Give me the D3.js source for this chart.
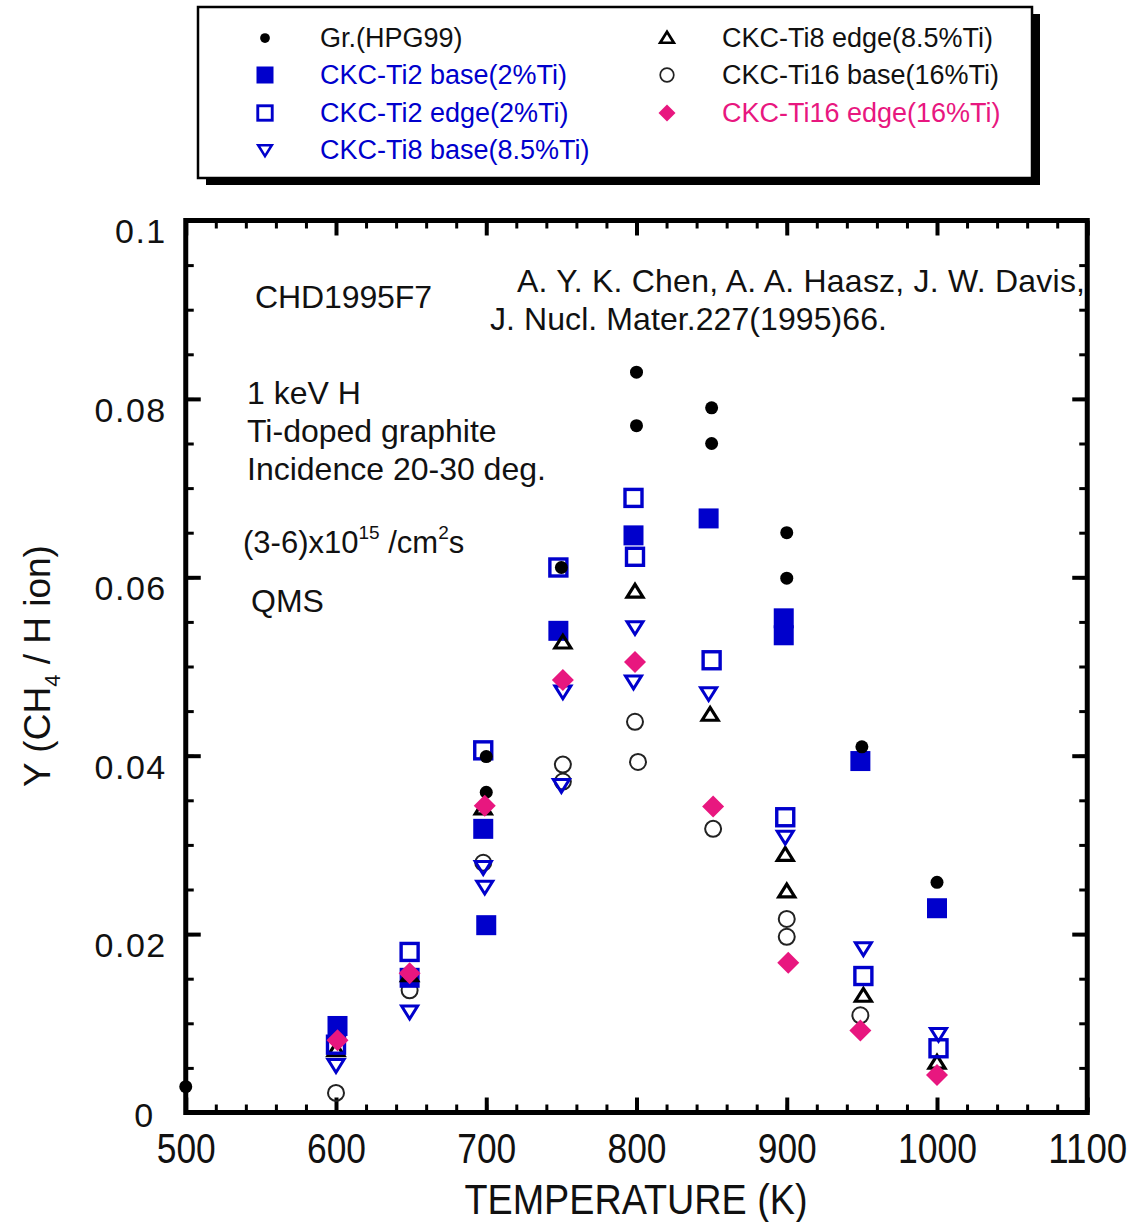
<!DOCTYPE html>
<html>
<head>
<meta charset="utf-8">
<script src="https://cdn.jsdelivr.net/npm/d3@7"></script>
<style>
  body { margin: 0; background: #fff; }
  svg { font-family: "Liberation Sans", Arial, sans-serif; }
</style>
</head>
<body>
<svg id="chart" width="1140" height="1222"></svg>
<script>
// data (temperature K, yield CH4/H)
var grT = [500, 700, 700, 750, 800, 800, 850, 850, 900, 900, 950, 1000];
var grY = [0.0029, 0.0399, 0.0359, 0.0611, 0.0830, 0.0770, 0.0790, 0.0750, 0.0650, 0.0599, 0.0410, 0.0258];

var ti2BaseT = [601, 649, 698, 700, 748, 798, 848, 898, 898, 949, 1000];
var ti2BaseY = [0.0097, 0.0151, 0.0318, 0.0210, 0.0540, 0.0647, 0.0666, 0.0554, 0.0535, 0.0394, 0.0229];

var ti2EdgeT = [600, 649, 698, 748, 798, 799, 850, 899, 951, 1001];
var ti2EdgeY = [0.0076, 0.0180, 0.0406, 0.0611, 0.0689, 0.0623, 0.0507, 0.0331, 0.0153, 0.0072];

var ti8BaseT = [600, 649, 698, 699, 751, 750, 799, 798, 848, 899, 951, 1001];
var ti8BaseY = [0.0053, 0.0113, 0.0275, 0.0253, 0.0472, 0.0367, 0.0544, 0.0483, 0.0470, 0.0309, 0.0184, 0.0088];

var ti8EdgeT = [600, 649, 698, 751, 799, 849, 899, 900, 951, 1000];
var ti8EdgeY = [0.0070, 0.0154, 0.0341, 0.0527, 0.0584, 0.0446, 0.0289, 0.0248, 0.0131, 0.0056];

var ti16BaseT = [600, 649, 698, 751, 751, 799, 801, 851, 900, 900, 949];
var ti16BaseY = [0.0022, 0.0137, 0.0280, 0.0390, 0.0371, 0.0438, 0.0393, 0.0318, 0.0217, 0.0197, 0.0109];

var ti16EdgeT = [601, 649, 699, 751, 799, 851, 901, 949, 1000];
var ti16EdgeY = [0.0081, 0.0156, 0.0344, 0.0485, 0.0505, 0.0343, 0.0168, 0.0092, 0.0042];

var xMajor = [500, 600, 700, 800, 900, 1000, 1100];
var xMinor = d3.range(520, 1100, 20);
var yMajor = [0, 0.02, 0.04, 0.06, 0.08, 0.1];
var yMinor = d3.range(0.005, 0.1, 0.005);
var yLabels = ["0", "0.02", "0.04", "0.06", "0.08", "0.1"];

var BLUE = "#0000cc", PINK = "#e8177f", INK = "#111";

var svg = d3.select("#chart");

var x = d3.scaleLinear().domain([500, 1100]).range([185.75, 1087.25]);
var y = d3.scaleLinear().domain([0, 0.1]).range([1112.5, 220.5]);

/* marker shapes, sized in px */
function marker(g, kind, cx, cy, s) {
  var h = s / 2;
  if (kind == "dot") {
    g.append("circle").attr("cx", cx).attr("cy", cy).attr("r", h * 0.65).attr("fill", "#000");
  } else if (kind == "fsq") {
    g.append("rect").attr("x", cx - h).attr("y", cy - h).attr("width", s).attr("height", s).attr("fill", BLUE);
  } else if (kind == "osq") {
    var k = h * 0.85;
    g.append("rect").attr("x", cx - k).attr("y", cy - k).attr("width", 2 * k).attr("height", 2 * k)
      .attr("fill", "none").attr("stroke", BLUE).attr("stroke-width", s * 0.17);
  } else if (kind == "dtri") {
    var w = h * 0.8;
    g.append("path").attr("d", "M" + (cx - w) + "," + (cy - w * 0.7) + "L" + (cx + w) + "," + (cy - w * 0.7) + "L" + cx + "," + (cy + w * 0.9) + "Z")
      .attr("fill", "none").attr("stroke", BLUE).attr("stroke-width", s * 0.15).attr("stroke-linejoin", "miter");
  } else if (kind == "utri") {
    var w2 = h * 0.8;
    g.append("path").attr("d", "M" + (cx - w2) + "," + (cy + w2 * 0.7) + "L" + (cx + w2) + "," + (cy + w2 * 0.7) + "L" + cx + "," + (cy - w2 * 0.9) + "Z")
      .attr("fill", "none").attr("stroke", "#000").attr("stroke-width", s * 0.16).attr("stroke-linejoin", "miter");
  } else if (kind == "ocirc") {
    g.append("circle").attr("cx", cx).attr("cy", cy).attr("r", h * 0.8)
      .attr("fill", "none").attr("stroke", "#222").attr("stroke-width", s * 0.1);
  } else if (kind == "diam") {
    g.append("path").attr("d", "M" + cx + "," + (cy - h) + "L" + (cx + h) + "," + cy + "L" + cx + "," + (cy + h) + "L" + (cx - h) + "," + cy + "Z")
      .attr("fill", PINK);
  }
}

var series = [
  { kind: "ocirc", t: ti16BaseT, v: ti16BaseY },
  { kind: "fsq",   t: ti2BaseT,  v: ti2BaseY },
  { kind: "utri",  t: ti8EdgeT,  v: ti8EdgeY },
  { kind: "osq",   t: ti2EdgeT,  v: ti2EdgeY },
  { kind: "dtri",  t: ti8BaseT,  v: ti8BaseY },
  { kind: "dot",   t: grT,       v: grY },
  { kind: "diam",  t: ti16EdgeT, v: ti16EdgeY }
];

/* legend */
var legend = svg.append("g").attr("id", "legend");
legend.append("rect").attr("x", 206).attr("y", 14).attr("width", 834).attr("height", 171).attr("fill", "#000");
legend.append("rect").attr("x", 198).attr("y", 7).attr("width", 834).attr("height", 171)
  .attr("fill", "#fff").attr("stroke", "#000").attr("stroke-width", 2.5);

var legendItems = [
  { kind: "dot",   label: "Gr.(HPG99)",             color: INK,  col: 0, row: 0 },
  { kind: "fsq",   label: "CKC-Ti2 base(2%Ti)",     color: BLUE, col: 0, row: 1 },
  { kind: "osq",   label: "CKC-Ti2 edge(2%Ti)",     color: BLUE, col: 0, row: 2 },
  { kind: "dtri",  label: "CKC-Ti8 base(8.5%Ti)",   color: BLUE, col: 0, row: 3 },
  { kind: "utri",  label: "CKC-Ti8 edge(8.5%Ti)",   color: INK,  col: 1, row: 0 },
  { kind: "ocirc", label: "CKC-Ti16 base(16%Ti)",   color: INK,  col: 1, row: 1 },
  { kind: "diam",  label: "CKC-Ti16 edge(16%Ti)",   color: PINK, col: 1, row: 2 }
];
var legSymX = [265, 667], legTxtX = [320, 722], legRowY = [38, 75, 113, 150];
legendItems.forEach(function(d) {
  var size = d.kind == "dot" ? 15 : 17;
  marker(legend, d.kind, legSymX[d.col], legRowY[d.row], size);
  legend.append("text").attr("x", legTxtX[d.col]).attr("y", legRowY[d.row] + 9)
    .attr("font-size", 27).attr("fill", d.color).text(d.label);
});

/* axes: ticks pointing inwards on all four sides */
function styleAxis(g, major) {
  g.select(".domain").remove();
  g.selectAll(".tick line").attr("stroke", "#000").attr("stroke-width", major ? 4 : 3);
}

svg.append("g").attr("transform", "translate(0," + y(0) + ")")
  .call(d3.axisBottom(x).tickValues(xMinor).tickSize(-8).tickFormat(""))
  .call(styleAxis, false);
var xb = svg.append("g").attr("transform", "translate(0," + y(0) + ")")
  .call(d3.axisBottom(x).tickValues(xMajor).tickSize(-15).tickPadding(21).tickFormat(d3.format("d")))
  .call(styleAxis, true);
xb.selectAll(".tick text")
  .attr("font-size", 42).attr("fill", INK)
  .attr("font-family", "'Liberation Sans Narrow', 'Liberation Sans', Arial, sans-serif")
  .attr("textLength", function(d) { return d >= 1000 ? 79 : 59; })
  .attr("lengthAdjust", "spacingAndGlyphs");

svg.append("g").attr("transform", "translate(0," + y(0.1) + ")")
  .call(d3.axisTop(x).tickValues(xMinor).tickSize(-8).tickFormat(""))
  .call(styleAxis, false);
svg.append("g").attr("transform", "translate(0," + y(0.1) + ")")
  .call(d3.axisTop(x).tickValues(xMajor).tickSize(-15).tickFormat(""))
  .call(styleAxis, true);

svg.append("g").attr("transform", "translate(" + x(500) + ",0)")
  .call(d3.axisLeft(y).tickValues(yMinor).tickSize(-8).tickFormat(""))
  .call(styleAxis, false);
var yl = svg.append("g").attr("transform", "translate(" + x(500) + ",0)")
  .call(d3.axisLeft(y).tickValues(yMajor).tickSize(-15).tickPadding(19)
    .tickFormat(function(d, i) { return yLabels[i]; }))
  .call(styleAxis, true);
yl.selectAll(".tick text").attr("font-size", 34).attr("fill", INK)
  .attr("letter-spacing", 1.5)
  .attr("dy", function(d) { return d == 0 ? "0.4em" : "0.66em"; })
  .attr("dx", function(d) { return d == 0 ? -12 : 0; });

svg.append("g").attr("transform", "translate(" + x(1100) + ",0)")
  .call(d3.axisRight(y).tickValues(yMinor).tickSize(-8).tickFormat(""))
  .call(styleAxis, false);
svg.append("g").attr("transform", "translate(" + x(1100) + ",0)")
  .call(d3.axisRight(y).tickValues(yMajor).tickSize(-15).tickFormat(""))
  .call(styleAxis, true);

/* frame */
svg.append("rect").attr("x", x(500)).attr("y", y(0.1))
  .attr("width", x(1100) - x(500)).attr("height", y(0) - y(0.1))
  .attr("fill", "none").attr("stroke", "#000").attr("stroke-width", 5);

/* axis titles */
svg.append("text").attr("x", 636).attr("y", 1214).attr("text-anchor", "middle")
  .attr("font-size", 42).attr("fill", INK)
  .attr("font-family", "'Liberation Sans Narrow', 'Liberation Sans', Arial, sans-serif")
  .attr("textLength", 343).attr("lengthAdjust", "spacingAndGlyphs")
  .text("TEMPERATURE (K)");

var ytitle = svg.append("text").attr("transform", "translate(50,666) rotate(-90)")
  .attr("text-anchor", "middle").attr("font-size", 37).attr("fill", INK);
ytitle.append("tspan").text("Y (CH");
ytitle.append("tspan").attr("font-size", 22).attr("dy", 10).text("4");
ytitle.append("tspan").attr("dy", -10).text(" / H ion)");

/* annotations */
var notes = [
  { x: 255, y: 308, t: "CHD1995F7", w: 177 },
  { x: 517, y: 292, t: "A. Y. K. Chen, A. A. Haasz, J. W. Davis,", w: 568 },
  { x: 490, y: 330, t: "J. Nucl. Mater.227(1995)66.", w: 397 },
  { x: 247, y: 404, t: "1 keV H", w: 0 },
  { x: 247, y: 442, t: "Ti-doped graphite", w: 0 },
  { x: 247, y: 480, t: "Incidence 20-30 deg.", w: 0 },
  { x: 251, y: 612, t: "QMS", w: 0 }
];
svg.append("g").selectAll("text").data(notes).enter().append("text")
  .attr("x", function(d) { return d.x; }).attr("y", function(d) { return d.y; })
  .attr("font-size", 32).attr("fill", INK)
  .attr("textLength", function(d) { return d.w ? d.w : null; })
  .text(function(d) { return d.t; });

var flux = svg.append("text").attr("x", 243).attr("y", 553).attr("font-size", 31).attr("fill", INK);
flux.append("tspan").text("(3-6)x10");
flux.append("tspan").attr("font-size", 19).attr("dy", -14).text("15");
flux.append("tspan").attr("dy", 14).text(" /cm");
flux.append("tspan").attr("font-size", 19).attr("dy", -14).text("2");
flux.append("tspan").attr("dy", 14).text("s");

/* data points */
var pts = svg.append("g").attr("id", "points");
series.forEach(function(s) {
  var size = s.kind == "dot" ? 20 : (s.kind == "diam" ? 22 : 20);
  s.t.forEach(function(t, i) {
    marker(pts, s.kind, x(t), y(s.v[i]), size);
  });
});
</script>
</body>
</html>
